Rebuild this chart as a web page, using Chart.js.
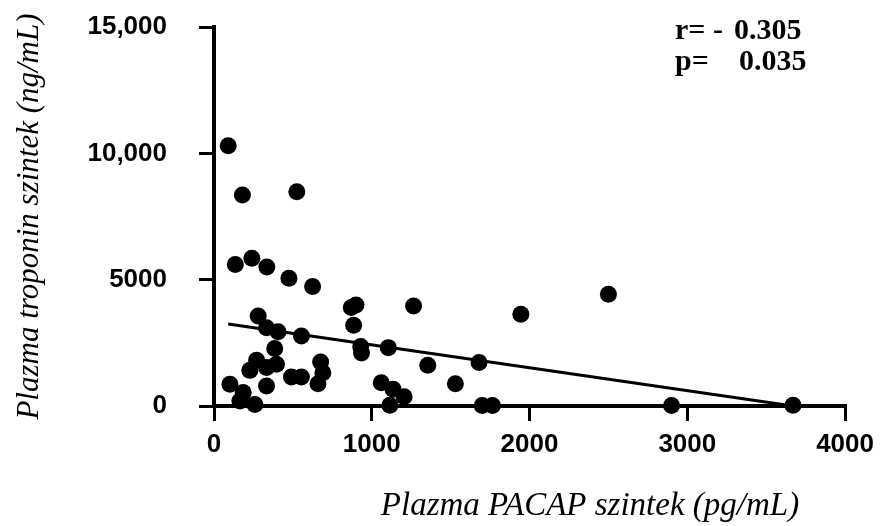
<!DOCTYPE html>
<html>
<head>
<meta charset="utf-8">
<script src="https://cdn.jsdelivr.net/npm/chart.js@4.4.1/dist/chart.umd.min.js"></script>
<style>
  html, body { margin: 0; padding: 0; background: #fff; }
  canvas { display: block; }
</style>
</head>
<body>
<canvas id="grafikon" width="882" height="526"></canvas>
<script>
// PACAP (pg/mL) és troponin (ng/mL) értékek
const pacapErtekek = [
  90, 180, 525, 135, 240, 335, 475, 625, 870, 900,
  885, 1265, 280, 333, 406, 554, 930, 935, 1105, 385,
  270, 227, 333, 396, 676, 690, 659, 491, 554, 333,
  101, 185, 164, 259, 1060, 1135, 1205, 1115, 1355, 1530,
  2500, 1945, 1680, 1700, 1765, 2900, 3670
];
const troponinErtekek = [
  10300, 8350, 8480, 5600, 5850, 5500, 5060, 4730, 3900, 4000,
  3200, 3960, 3560, 3100, 2940, 2770, 2350, 2100, 2310, 2280,
  1810, 1410, 1520, 1650, 1740, 1320, 880, 1150, 1150, 790,
  860, 530, 200, 60, 920, 660, 370, 30, 1610, 880,
  4420, 3630, 1720, 20, 20, 20, 30
];

const xTicks = [0, 1000, 2000, 3000, 4000];
const xTickLabels = ['0', '1000', '2000', '3000', '4000'];
const yTicks = [0, 5000, 10000, 15000];
const yTickLabels = ['0', '5000', '10,000', '15,000'];

// regressziós egyenes paraméterei
const regMeredekseg = -0.907;
const regMetszet = 3330;

const pontok = pacapErtekek.map((x, i) => ({ x: x, y: troponinErtekek[i] }));
const xMin = Math.min(...pacapErtekek);
const xMax = Math.max(...pacapErtekek);
const regVonal = [
  { x: xMin, y: regMetszet + regMeredekseg * xMin },
  { x: xMax, y: regMetszet + regMeredekseg * xMax }
];

// r és p értékek, x tengely felirata
const feliratok = {
  id: 'feliratok',
  afterDraw(chart) {
    const c = chart.ctx;
    c.save();
    c.fillStyle = '#000';
    c.textBaseline = 'alphabetic';
    c.font = 'bold 30px "Liberation Serif"';
    c.fillText('r= -', 675, 39);
    c.fillText('0.305', 734, 39);
    c.fillText('p=', 675, 70);
    c.fillText('0.035', 739, 70);
    c.font = 'italic 33px "Liberation Serif"';
    c.textAlign = 'center';
    c.fillText('Plazma PACAP szintek (pg/mL)', 590, 515);
    c.restore();
  }
};

const tickFont = { family: '"Liberation Sans", Arial, sans-serif', size: 26, weight: 'bold' };

const config = {
  type: 'scatter',
  data: {
    datasets: [
      {
        label: 'Betegek',
        data: pontok,
        backgroundColor: '#000',
        borderWidth: 0,
        pointRadius: 8.5,
        clip: false
      },
      {
        type: 'line',
        label: 'Regresszió',
        data: regVonal,
        borderColor: '#000',
        borderWidth: 3,
        pointRadius: 0,
        fill: false,
        clip: false
      }
    ]
  },
  options: {
    responsive: false,
    animation: false,
    layout: { padding: { top: 27, right: 35, left: 0, bottom: 0 } },
    plugins: {
      legend: { display: false },
      tooltip: { enabled: false }
    },
    scales: {
      x: {
        type: 'linear',
        min: 0,
        max: 4000,
        afterBuildTicks: s => { s.ticks = xTicks.map(v => ({ value: v })); },
        afterFit: s => { s.height = 120; },
        ticks: {
          color: '#000',
          font: tickFont,
          padding: 8,
          maxRotation: 0,
          callback: (v, i) => xTickLabels[i]
        },
        grid: {
          drawOnChartArea: false,
          tickLength: 15,
          lineWidth: 3,
          color: '#000'
        },
        border: { display: true, width: 4, color: '#000' }
      },
      y: {
        type: 'linear',
        min: 0,
        max: 15000,
        afterBuildTicks: s => { s.ticks = yTicks.map(v => ({ value: v })); },
        afterFit: s => {
          s.width = 214;
          s.paddingTop = 0;
          s.paddingBottom = 0;
        },
        ticks: {
          color: '#000',
          font: tickFont,
          padding: 32,
          callback: (v, i) => yTickLabels[i]
        },
        grid: {
          drawOnChartArea: false,
          tickLength: 15,
          lineWidth: 3,
          color: '#000'
        },
        border: { display: true, width: 4, color: '#000' },
        title: {
          display: true,
          text: 'Plazma troponin szintek (ng/mL)',
          color: '#000',
          font: { family: '"Liberation Serif", "Times New Roman", serif', size: 31, style: 'italic' },
          padding: { top: 11, bottom: 0 }
        }
      }
    }
  },
  plugins: [feliratok]
};

const ctx = document.getElementById('grafikon').getContext('2d');
new Chart(ctx, config);
</script>
</body>
</html>
